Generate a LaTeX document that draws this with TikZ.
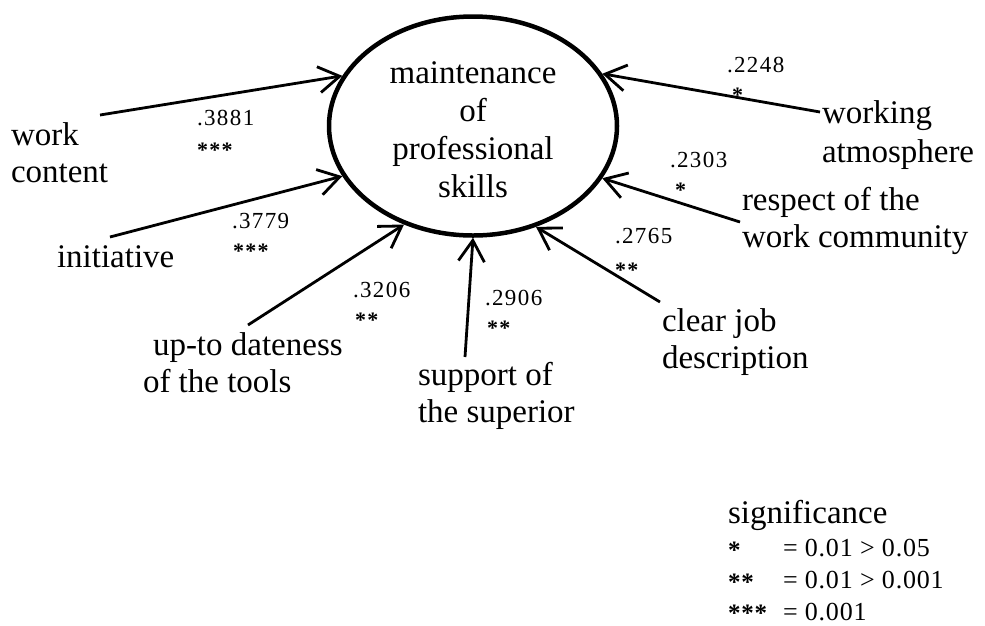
\documentclass[tikz,border=0pt]{standalone}
\usepackage{fontspec}
\setmainfont{Liberation Serif}
\newfontfamily\numfont[LetterSpace=6]{Liberation Serif}
\newfontfamily\legfont[LetterSpace=3]{Liberation Serif}
\usetikzlibrary{shapes.geometric,arrows.meta}
\begin{document}
\begin{tikzpicture}[x=1pt,y=-1pt,
  lab/.style={font=\fontsize{33}{37}\selectfont, inner sep=0pt, outer sep=0pt, align=left, anchor=base west},
  num/.style={font=\numfont\fontsize{23}{26}\selectfont, inner sep=0pt, outer sep=0pt, anchor=base west},
  stars/.style={font=\numfont\bfseries\fontsize{22}{26}\selectfont, inner sep=0pt, outer sep=0pt, anchor=base west},
  leg/.style={font=\legfont\fontsize{26}{30}\selectfont, inner sep=0pt, outer sep=0pt, anchor=base west},
  legstars/.style={font=\legfont\bfseries\fontsize{25}{30}\selectfont, inner sep=0pt, outer sep=0pt, anchor=base west},
  arr/.style={line width=2.8pt, -{Straight Barb[length=21pt,width=26pt]}}]
\useasboundingbox (0,0) rectangle (985,625);
% central ellipse
\node[ellipse, draw, line width=4.5pt, minimum width=288pt, minimum height=219pt, inner sep=0pt] (E) at (473,126) {};
\node[font=\fontsize{33}{38}\selectfont, align=center, anchor=base, inner sep=0pt] (title) at (473,197) {maintenance\\of\\professional\\skills};
% factor labels (base = baseline of the last line)
\node[lab] (wc) at (11,182) {work\\content};
\node[lab] (ini) at (57,267) {initiative};
\node[lab] (up) at (143,392) {\hspace*{10pt}up-to dateness\\of the tools};
\node[lab] (sup) at (418,422) {support of\\the superior};
\node[lab] (cj) at (662,368) {clear job\\description};
\node[lab] (rw) at (742,247) {respect of the\\work community};
\node[lab, font=\fontsize{33}{39}\selectfont] (wa) at (822,162) {working\\atmosphere};
% arrow start points
\coordinate (s1) at (100,115);
\coordinate (s2) at (110,237);
\coordinate (s3) at (248,325);
\coordinate (s4) at (465,357);
\coordinate (s5) at (660,302);
\coordinate (s6) at (740,222);
\coordinate (s7) at (820,112);
% arrows
\draw[arr] (s1) -- (E.159);
\draw[arr] (s2) -- (E.201);
\draw[arr] (s3) -- (E.235.3);
\draw[arr] (s4) -- (E.270);
\draw[arr] (s5) -- (E.302.5);
\draw[arr] (s6) -- (E.338.7);
\draw[arr] (s7) -- (E.22);
% coefficients
\node[num] (n1) at (197,125) {.3881};
\node[stars] (n1s) at (197,157) {***};
\node[num] (n2) at (232,228) {.3779};
\node[stars] (n2s) at (233,258) {***};
\node[num] (n3) at (353,297) {.3206};
\node[stars] (n3s) at (355,327) {**};
\node[num] (n4) at (485,305) {.2906};
\node[stars] (n4s) at (487,335) {**};
\node[num] (n5) at (615,243) {.2765};
\node[stars] (n5s) at (615,277) {**};
\node[num] (n6) at (670,167) {.2303};
\node[stars] (n6s) at (675,197) {*};
\node[num] (n7) at (727,72) {.2248};
\node[stars] (n7s) at (732,102) {*};
% legend
\node[lab] (sig) at (728,523) {significance};
\node[legstars] (l1s) at (728,558) {*};
\node[leg] (l1t) at (783,556) {= 0.01 > 0.05};
\node[legstars] (l2s) at (728,590) {**};
\node[leg] (l2t) at (783,588) {= 0.01 > 0.001};
\node[legstars] (l3s) at (728,621) {***};
\node[leg] (l3t) at (783,620) {= 0.001};
\end{tikzpicture}
\end{document}
